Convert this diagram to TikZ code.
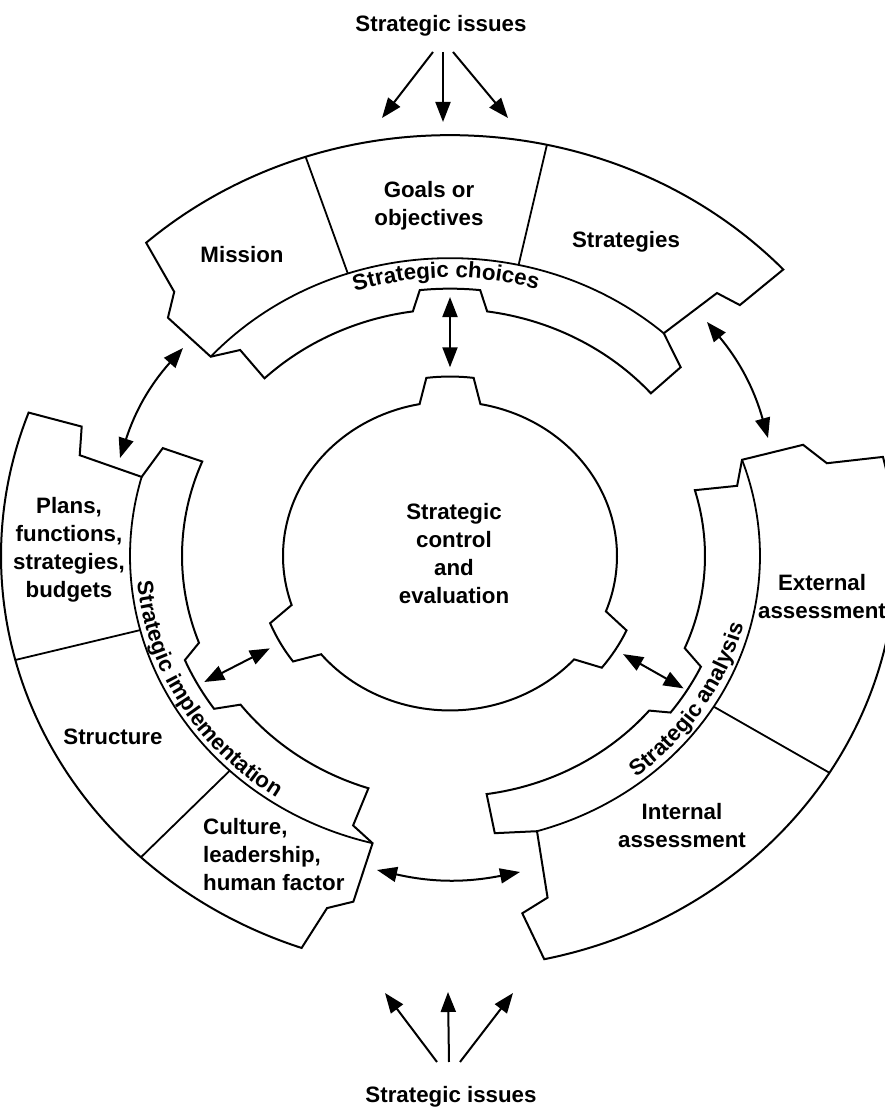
\documentclass[tikz,border=0pt]{standalone}
\usepackage{fontspec}
\setmainfont{Liberation Sans}
\usetikzlibrary{arrows.meta,decorations.text}
\newcommand\labfont{\bfseries\fontsize{22.3}{28}\selectfont}
\newcommand\curvefont{\bfseries\fontsize{22.3}{26}\selectfont}
\begin{document}
\begin{tikzpicture}[x=1pt,y=1pt,
  edgeline/.style={line width=2pt,line join=miter},
  divline/.style={line width=1.8pt},
  bigtip/.tip={Triangle[length=20pt,width=15pt]},
  twoway/.style={line width=2pt,bigtip-bigtip},
  oneway/.style={line width=2pt,-bigtip},
  lab/.style={font=\labfont,align=center,inner sep=0pt}]

\fill[white] (0,0) rectangle (885,1109);
\useasboundingbox (0,0) rectangle (885,1109);
\clip (0,0) rectangle (885,1109);

% ---------- rings, drawn in polar form around the centre ----------
\begin{scope}[shift={(450,553)},yscale=0.925]
  % centre: control and evaluation, with three tabs
  \draw[edgeline] (100.5:167) arc[start angle=100.5,end angle=198.5,radius=167]
    -- (202:194) arc[start angle=202,end angle=216,radius=194]
    -- (219.5:167) arc[start angle=219.5,end angle=318,radius=167]
    -- (321.5:194) arc[start angle=321.5,end angle=335.5,radius=194]
    -- (339:167) arc[start angle=339,end angle=439.5,radius=167]
    -- (443:194) arc[start angle=443,end angle=457,radius=194]
    -- cycle;

  % top sector: strategic choices
  \draw[edgeline] (131.9:455) arc[start angle=131.9,end angle=42.9,radius=455]
    -- (43.1:397) -- (46.8:390) -- (48.4:322) -- (41.5:308) -- (41.2:267)
    arc[start angle=41.2,end angle=82,radius=267]
    -- (84:289) arc[start angle=84,end angle=96,radius=289]
    -- (98:267) arc[start angle=98,end angle=134,radius=267]
    -- (133.3:306) -- (138:322) -- (137.6:382) -- (134:397) -- cycle;
  \draw[divline] (48.4:322) arc[start angle=48.4,end angle=138,radius=322];
  \draw[divline] (77.7:322) -- (77.7:455);
  \draw[divline] (108.5:322) -- (108.5:455);

  % lower right sector: strategic analysis
  \draw[edgeline] (13.9:446) arc[start angle=13.9,end angle=-77.8,radius=446]
    -- (-79.4:393) -- (-75.2:382) -- (-73.7:310) -- (-81.5:303) -- (-81.9:260)
    arc[start angle=-81.9,end angle=-40,radius=260]
    -- (-37.5:278) arc[start angle=-37.5,end angle=-25.5,radius=278]
    -- (-23:255) arc[start angle=-23,end angle=16.2,radius=255]
    -- (14.8:297) -- (19.6:310) -- (18.8:373) -- (14.9:390) -- cycle;
  \draw[divline] (-73.7:310) arc[start angle=-73.7,end angle=19.6,radius=310];
  \draw[divline] (-31.7:310) -- (-31.7:446);

  % lower left sector: strategic implementation
  \draw[edgeline] (250.7:449) arc[start angle=250.7,end angle=159.8,radius=449]
    -- (159.2:394) -- (163.6:386) -- (164.5:320) -- (157.9:310) -- (157.6:268)
    arc[start angle=157.6,end angle=200.5,radius=268]
    -- (203:288) arc[start angle=203,end angle=215,radius=288]
    -- (217.5:264) arc[start angle=217.5,end angle=252,radius=264]
    -- (251.6:307) -- (256:320) -- (255.5:386) -- (252.1:400) -- cycle;
  \draw[divline] (164.5:320) arc[start angle=164.5,end angle=256,radius=320];
  \draw[divline] (194.5:320) -- (194.5:449);
  \draw[divline] (226.5:320) -- (226.5:449);

  % band titles set along the arcs
  \path[decorate,decoration={text along path,text align=center,
      text={|\curvefont|Strategic choices}}]
    (125.8:301) arc[start angle=125.8,end angle=55.8,radius=301];
  \path[decorate,decoration={text along path,text align=center,
      text={|\curvefont|Strategic implementation}}]
    (175.5:314) arc[start angle=175.5,end angle=245.5,radius=314];
  \path[decorate,decoration={text along path,text align=center,
      text={|\curvefont|Strategic analysis}}]
    (292.3:303) arc[start angle=292.3,end angle=362.3,radius=303];

  % links between the centre and each band
  \coordinate (rT1) at (90:204);    \coordinate (rT2) at (90:280);
  \coordinate (rL1) at (209:206);   \coordinate (rL2) at (209:281);
  \coordinate (rR1) at (328.5:203); \coordinate (rR2) at (328.5:274);
  \draw[twoway] (rT1) -- (rT2);
  \draw[twoway] (rL1) -- (rL2);
  \draw[twoway] (rR1) -- (rR2);
\end{scope}

% ---------- labels ----------
\node[lab] (ctrl) at (454,555) {Strategic\\control\\and\\evaluation};
\node[lab] (mission) at (242,854) {Mission};
\node[lab] (goals) at (429,903) {Goals or\\objectives};
\node[lab] (strat) at (626,867) {Strategies};
\node[lab] (plans) at (69,559) {Plans,\\functions,\\strategies,\\budgets};
\node[lab] (struct) at (113,372) {Structure};
\node[lab,align=left,anchor=west] (culture) at (203,254.5) {Culture,\\leadership,\\human factor};
\node[lab] (ext) at (822,512) {External\\assessment};
\node[lab] (int) at (682,283) {Internal\\assessment};
\node[lab,anchor=base] (issTop) at (441,1077) {Strategic issues};
\node[lab,anchor=base] (issBot) at (451,6) {Strategic issues};

% ---------- arrows between the sectors ----------
\coordinate (aL1) at (183,761); \coordinate (aL2) at (120,651);
\coordinate (aR1) at (707,787); \coordinate (aR2) at (768,671);
\coordinate (aB1) at (377,239); \coordinate (aB2) at (520,237);
\draw[twoway] (aL1) to[bend right=12] (aL2);
\draw[twoway] (aR1) to[bend left=12] (aR2);
\draw[twoway] (aB1) to[bend right=12] (aB2);

% ---------- strategic issues feeding in ----------
\coordinate (tT1) at (433,1057); \coordinate (hT1) at (382,991);
\coordinate (tT2) at (443,1057); \coordinate (hT2) at (443,987);
\coordinate (tT3) at (453,1057); \coordinate (hT3) at (508,991);
\draw[oneway] (tT1) -- (hT1);
\draw[oneway] (tT2) -- (hT2);
\draw[oneway] (tT3) -- (hT3);
\coordinate (tB1) at (437,47); \coordinate (hB1) at (385,116);
\coordinate (tB2) at (449,47); \coordinate (hB2) at (448,117);
\coordinate (tB3) at (460,47); \coordinate (hB3) at (513,116);
\draw[oneway] (tB1) -- (hB1);
\draw[oneway] (tB2) -- (hB2);
\draw[oneway] (tB3) -- (hB3);
\end{tikzpicture}
\end{document}
